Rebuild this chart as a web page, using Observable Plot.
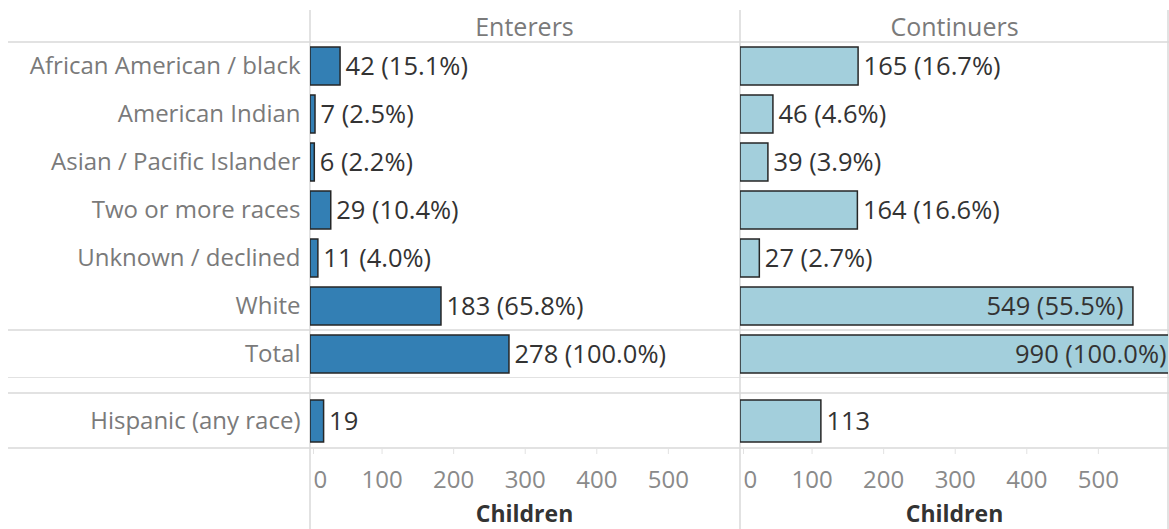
<!DOCTYPE html>
<html><head><meta charset="utf-8">
<script src="https://cdn.jsdelivr.net/npm/d3@7"></script>
<script src="https://cdn.jsdelivr.net/npm/@observablehq/plot@0.6"></script>
<style>
body{margin:0;background:#fff;}
#chart{position:relative;width:1169px;height:529px;overflow:hidden;}
#chart svg{display:block;}
</style></head><body><div id="chart"></div>
<script>
const groups = ["Enterers", "Continuers"];
const categories = ["African American / black", "American Indian", "Asian / Pacific Islander", "Two or more races", "Unknown / declined", "White", "Total"];
const entererCounts = [42, 7, 6, 29, 11, 183, 278];
const entererPct = [15.1, 2.5, 2.2, 10.4, 4.0, 65.8, 100.0];
const continuerCounts = [165, 46, 39, 164, 27, 549, 990];
const continuerPct = [16.7, 4.6, 3.9, 16.6, 2.7, 55.5, 100.0];
const hispanicCategory = ["Hispanic (any race)"];
const hispanicEnterers = [19];
const hispanicContinuers = [113];
const xTicks = [0, 100, 200, 300, 400, 500];
const xMax = 598;
const colors = ["#337fb4", "#a3cfdc"];

function place(value, label) {
  if (value > xMax) return "clipped";
  return value + label.length * 17 < xMax ? "outside" : "inside";
}
const rows = [];
categories.forEach((c, i) => {
  [["Enterers", entererCounts, entererPct], ["Continuers", continuerCounts, continuerPct]].forEach(([g, v, p]) => {
    const label = `${v[i]} (${p[i].toFixed(1)}%)`;
    rows.push({group: g, category: c, value: v[i], label, place: place(v[i], label)});
  });
});
const hispRows = [];
hispanicCategory.forEach((c, i) => {
  hispRows.push({group: "Enterers", category: c, value: hispanicEnterers[i], label: String(hispanicEnterers[i])});
  hispRows.push({group: "Continuers", category: c, value: hispanicContinuers[i], label: String(hispanicContinuers[i])});
});
hispRows.forEach(d => d.place = place(d.value, d.label));

const FONT = "'Open Sans', sans-serif";
const LABEL_GREY = "#7a7a7a";
const VALUE_COL = "#333";
const LINE = "#d9d9d9";
const VAL_FS = 25.5;
const ROW_FS = 24;

const common = {
  width: 1169, marginLeft: 310, marginRight: 1,
  style: {fontFamily: FONT, fontSize: "24px", background: "transparent", color: VALUE_COL},
  fx: {domain: groups, paddingInner: 0.0047, paddingOuter: 0, axis: null, label: null},
  x: {domain: [0, xMax], axis: null},
  color: {domain: groups, range: colors}
};

function valueMarks(data) {
  return [
    Plot.barX(data, {fx: "group", y: "category", x: "value", fill: "group", stroke: "#262626", strokeWidth: 1.5, clip: true}),
    Plot.text(data.filter(d => d.place === "outside"), {fx: "group", y: "category", x: "value", text: "label", textAnchor: "start", dx: 5, fill: VALUE_COL, fontSize: VAL_FS}),
    Plot.text(data.filter(d => d.place === "inside"), {fx: "group", y: "category", x: "value", text: "label", textAnchor: "end", dx: -10, fill: VALUE_COL, fontSize: VAL_FS}),
    Plot.text(data.filter(d => d.place === "clipped"), {fx: "group", y: "category", x: () => xMax, text: "label", textAnchor: "end", dx: -2, fill: VALUE_COL, fontSize: VAL_FS}),
    Plot.axisY({tickSize: 0, tickPadding: 10, fill: LABEL_GREY, fontSize: ROW_FS, label: null})
  ];
}

const plotA = Plot.plot({
  ...common, height: 378, marginTop: 42, marginBottom: 0,
  y: {domain: categories, paddingInner: 0.2, paddingOuter: 0.1, axis: null, label: null},
  marks: [
    ...valueMarks(rows),
    Plot.text(groups, {fx: d => d, text: d => d, frameAnchor: "top", lineAnchor: "middle", dy: -15, fill: LABEL_GREY, fontSize: 25})
  ]
});

const plotB = Plot.plot({
  ...common, height: 151, marginTop: 15, marginBottom: 81,
  y: {domain: hispanicCategory, padding: 0.134, axis: null, label: null},
  marks: [
    ...valueMarks(hispRows),
    Plot.axisX({ticks: xTicks.slice(1), tickSize: 6, tickPadding: 16, stroke: "#e2e2e2", fill: "#8a8a8a", fontSize: 24, label: null}),
    Plot.axisX({ticks: xTicks.slice(0, 1), tickSize: 6, tickPadding: 16, stroke: "#e2e2e2", textAnchor: "start", dx: 3, fill: "#8a8a8a", fontSize: 24, label: null}),
    Plot.text(groups, {fx: d => d, text: () => "Children", frameAnchor: "bottom", lineAnchor: "middle", dy: 66, fontWeight: "bold", fill: VALUE_COL, fontSize: 23})
  ]
});

function frameLines(plot, yTop, hs) {
  const svg = d3.select(plot);
  const g = svg.insert("g", ":first-child").attr("stroke", LINE).attr("stroke-width", 1.5);
  const fx = plot.scale("fx");
  const H = +svg.attr("height");
  const xs = [fx.apply(groups[0]), fx.apply(groups[1]), fx.apply(groups[1]) + fx.bandwidth];
  xs.forEach(x => g.append("line").attr("x1", x).attr("x2", x).attr("y1", yTop).attr("y2", H));
  hs.forEach(h => g.append("line").attr("x1", 8).attr("x2", 1169).attr("y1", h).attr("y2", h));
}
{
  const y = plotA.scale("y");
  const n = categories.length;
  const step = (y.range[1] - y.range[0]) / (n - 0.2 + 0.2);
  const gap = (step - y.bandwidth) / 2;
  const t = y.apply("Total");
  frameLines(plotA, 10, [y.range[0], t - gap, t + y.bandwidth + gap]);
}
{
  const y = plotB.scale("y");
  frameLines(plotB, 0, [y.range[0], y.range[1]]);
}

document.getElementById("chart").append(plotA, plotB);
</script></body></html>
